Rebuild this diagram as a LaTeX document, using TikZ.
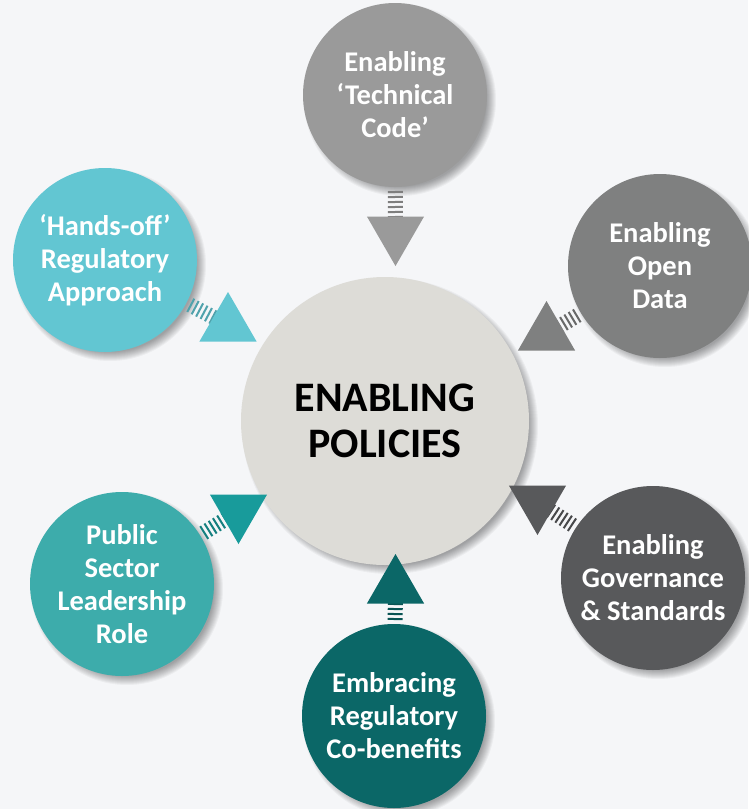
\documentclass[tikz,border=0pt]{standalone}
\usepackage{fontspec}
\setmainfont{Carlito}
\usetikzlibrary{calc,shapes.geometric}
\pgfdeclarelayer{bglayer}
\pgfdeclarelayer{shadowlayer}
\pgfdeclarelayer{stripelayer}
\pgfsetlayers{bglayer,shadowlayer,stripelayer,main}
\definecolor{bgc}{HTML}{F5F6F8}
\definecolor{cmain}{HTML}{DDDCD7}
\definecolor{ctech}{HTML}{9A9A9A}
\definecolor{copen}{HTML}{7F8080}
\definecolor{cgov}{HTML}{58595B}
\definecolor{ccob}{HTML}{0B6767}
\definecolor{cpub}{HTML}{3DACAB}
\definecolor{cpubt}{HTML}{189B9B}
\definecolor{chands}{HTML}{62C6D2}
\newcommand\mystripes[3]{%
  \foreach \d in {97,102,...,122}{%
    \coordinate (p) at ($(#1)!\d pt!(#2)$);
    \draw[#3!82!black, line width=2pt] ($(p)!7.5pt!90:(#2)$) -- ($(p)!7.5pt!-90:(#2)$);
  }}
\newcommand\myshadow[2]{%
  \foreach \k in {0,...,9}{%
    \fill[black, opacity=0.04] ($(#1)+(5,5)$) circle[radius={#2+4-\k}];
  }}
\begin{document}
\begin{tikzpicture}[x=1pt,y=-1pt,
  small/.style={circle, minimum size=184pt, inner sep=0pt, text=white, align=center,
    font=\fontsize{28.5}{33}\selectfont\bfseries},
  bigc/.style={circle, minimum size=288pt, inner sep=0pt, fill=cmain, text=black, align=center,
    font=\fontsize{42}{46}\selectfont\bfseries},
  tri/.style={regular polygon, regular polygon sides=3, minimum size=66pt, inner sep=0pt, outer sep=0pt},
  down/.style={shape border rotate=180}]
\begin{pgfonlayer}{bglayer}
  \fill[bgc] (0,0) rectangle (748,809);
\end{pgfonlayer}
\useasboundingbox (0,0) rectangle (748,809);

\node[bigc] (main) at (385,421) {ENABLING\\POLICIES};

\node[small, fill=ctech]  (tech)  at (395,95)  {Enabling\\‘Technical\\Code’};
\node[small, fill=copen]  (open)  at (660,266) {Enabling\\Open\\Data};
\node[small, fill=cgov]   (gov)   at (653,578) {Enabling\\Governance\\\& Standards};
\node[small, fill=ccob]   (cob)   at (394,716) {Embracing\\Regulatory\\Co-benefits};
\node[small, fill=cpub]   (pub)   at (122,584) {Public\\Sector\\Leadership\\Role};
\node[small, fill=chands] (hands) at (105,260) {‘Hands-off’\\Regulatory\\Approach};

\node[tri, down, fill=ctech]  (ttech)  at (395.5,233) {};
\node[tri, fill=copen]        (topen)  at (546.5,334) {};
\node[tri, down, fill=cgov]   (tgov)   at (537.5,502) {};
\node[tri, fill=ccob]         (tcob)   at (395.5,587) {};
\node[tri, down, fill=cpubt]  (tpub)   at (238.5,511) {};
\node[tri, fill=chands]       (thands) at (228,325) {};

\begin{pgfonlayer}{shadowlayer}
  \myshadow{main}{144}
  \myshadow{tech}{92}
  \myshadow{open}{92}
  \myshadow{gov}{92}
  \myshadow{cob}{92}
  \myshadow{pub}{92}
  \myshadow{hands}{92}
\end{pgfonlayer}
\begin{pgfonlayer}{stripelayer}
  \mystripes{tech}{ttech}{ctech}
  \mystripes{open}{topen}{copen}
  \mystripes{gov}{tgov}{cgov}
  \mystripes{cob}{tcob}{ccob}
  \mystripes{pub}{tpub}{cpubt}
  \mystripes{hands}{thands}{chands}
\end{pgfonlayer}
\end{tikzpicture}
\end{document}
